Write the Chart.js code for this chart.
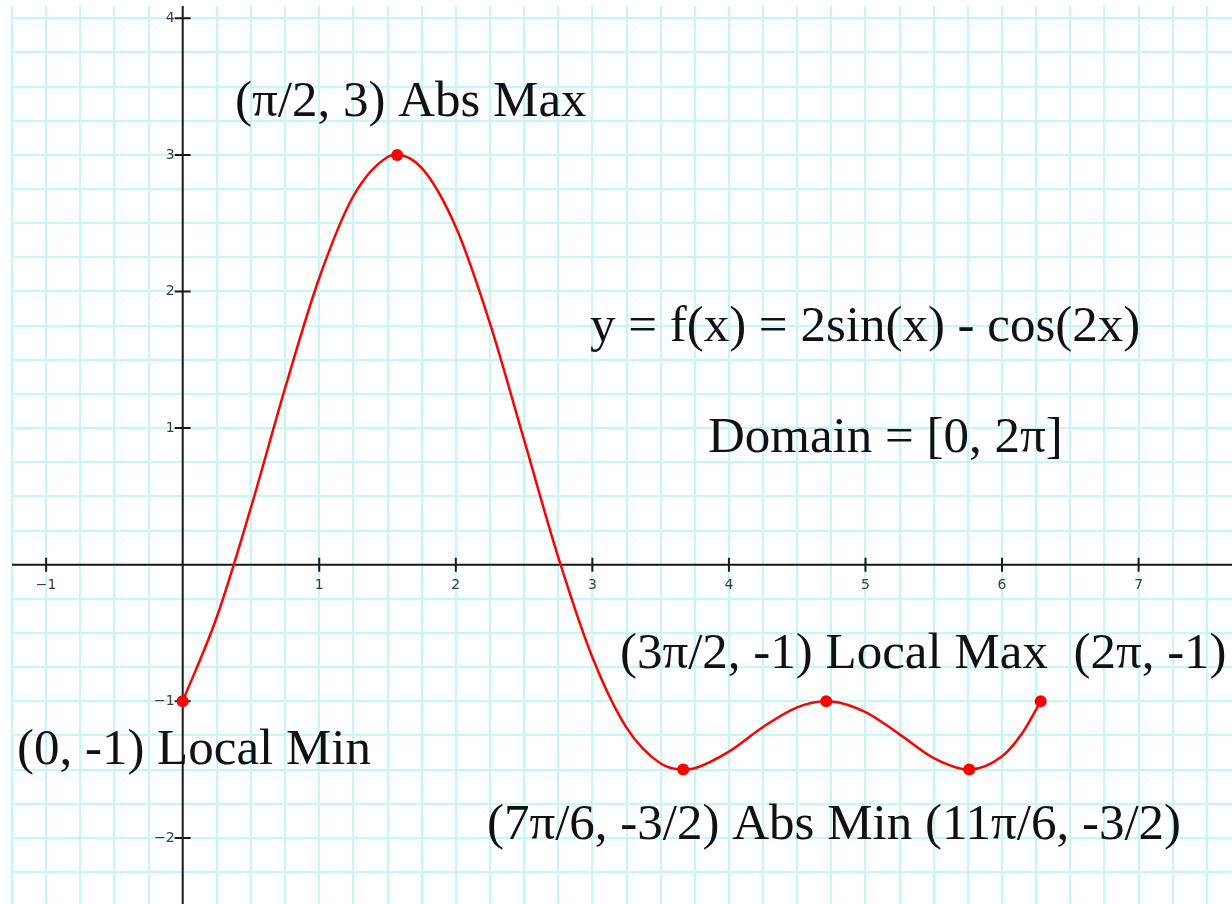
<!DOCTYPE html>
<html>
<head>
<meta charset="utf-8">
<title>y = f(x) = 2sin(x) - cos(2x)</title>
<script src="https://cdn.jsdelivr.net/npm/chart.js@4.4.1/dist/chart.umd.min.js"></script>
<style>
  html, body { margin: 0; padding: 0; background: #fff; }
  canvas { display: block; }
</style>
</head>
<body>
<canvas id="grafica" width="1232" height="904"></canvas>
<script>
// ---- curve samples, y = 2sin(x) - cos(2x) on [0, 2pi]
const curvaX = [0, 0.25, 0.5, 0.75, 1.0, 1.25, 1.5, 1.5708, 1.75, 2.0, 2.25, 2.5, 2.75, 3.0,
  3.25, 3.5, 3.6652, 3.75, 4.0, 4.25, 4.5, 4.7124, 4.75, 5.0, 5.25, 5.5, 5.7596, 6.0, 6.15, 6.2832];
const curvaY = [-1, -0.383, 0.419, 1.293, 2.099, 2.699, 2.985, 3, 2.905, 2.472, 1.767, 0.913, 0.055, -0.678,
  -1.193, -1.456, -1.5, -1.490, -1.368, -1.188, -1.044, -1, -1.001, -1.079, -1.242, -1.416, -1.5, -1.403, -1.230, -1];

// ---- critical points / endpoints
const puntosX = [0, 1.5708, 3.6652, 4.7124, 5.7596, 6.2832];
const puntosY = [-1, 3, -1.5, -1, -1.5, -1];

// ---- axis tick values and labels
const ticksX = [-1, 1, 2, 3, 4, 5, 6, 7];
const etiquetasX = ["\u22121", "1", "2", "3", "4", "5", "6", "7"];
const ticksY = [-2, -1, 1, 2, 3, 4];
const etiquetasY = ["\u22122", "\u22121", "1", "2", "3", "4"];

// ---- text notes, anchored in graph units (left edge, baseline)
const notasTexto = ["(\u03c0/2, 3) Abs Max", "y = f(x) = 2sin(x) - cos(2x)", "Domain = [0, 2\u03c0]",
  "(3\u03c0/2, -1) Local Max  (2\u03c0, -1)", "(0, -1) Local Min",
  "(7\u03c0/6, -3/2) Abs Min (11\u03c0/6, -3/2)"];
const notasX = [0.383, 2.982, 3.846, 3.202, -1.214, 2.228];
const notasY = [3.285, 1.638, 0.825, -0.756, -1.459, -2.007];

const curva = curvaX.map((x, i) => ({ x, y: curvaY[i] }));
const puntos = puntosX.map((x, i) => ({ x, y: puntosY[i] }));

const ROJO = "#ff0000";
const CUADRICULA = "#c6f7f7";

// grid only on quarter steps
function colorCuadricula(ctx) {
  const v = ctx.tick ? ctx.tick.value : 0;
  const q = v / 0.25;
  return Math.abs(q - Math.round(q)) < 1e-6 ? CUADRICULA : "rgba(0,0,0,0)";
}

// ===============================
// EJES EN EL ORIGEN
// ===============================
const ejesOrigen = {
  id: "ejesOrigen",
  beforeDatasetsDraw(chart) {
    const { ctx, chartArea, scales } = chart;
    const x0 = scales.x.getPixelForValue(0);
    const y0 = scales.y.getPixelForValue(0);
    ctx.save();
    ctx.strokeStyle = "#1a1a1a";
    ctx.lineWidth = 2;
    ctx.beginPath();
    ctx.moveTo(chartArea.left, y0);
    ctx.lineTo(chartArea.right, y0);
    ctx.moveTo(x0, chartArea.top);
    ctx.lineTo(x0, chartArea.bottom);
    ticksX.forEach(v => {
      const px = scales.x.getPixelForValue(v);
      ctx.moveTo(px, y0 - 7);
      ctx.lineTo(px, y0 + 7);
    });
    ticksY.forEach(v => {
      const py = scales.y.getPixelForValue(v);
      ctx.moveTo(x0 - 8, py);
      ctx.lineTo(x0 + 8, py);
    });
    ctx.stroke();

    ctx.fillStyle = "#3c3c3c";
    ctx.font = "14px 'DejaVu Sans'";
    ctx.textAlign = "center";
    ctx.textBaseline = "middle";
    ticksX.forEach((v, i) => {
      ctx.fillText(etiquetasX[i], scales.x.getPixelForValue(v), y0 + 21);
    });
    ctx.textAlign = "right";
    ticksY.forEach((v, i) => {
      ctx.fillText(etiquetasY[i], x0 - 8, scales.y.getPixelForValue(v));
    });
    ctx.restore();
  },
  afterDraw(chart) {
    const { ctx, scales } = chart;
    ctx.save();
    ctx.fillStyle = "#111";
    ctx.font = "51px 'Liberation Serif'";
    ctx.textAlign = "left";
    ctx.textBaseline = "alphabetic";
    notasTexto.forEach((t, i) => {
      ctx.fillText(t, scales.x.getPixelForValue(notasX[i]), scales.y.getPixelForValue(notasY[i]));
    });
    ctx.restore();
  }
};

new Chart(document.getElementById("grafica"), {
  type: "scatter",
  data: {
    datasets: [
      {
        data: curva,
        showLine: true,
        borderColor: ROJO,
        borderWidth: 2.5,
        pointRadius: 0,
        cubicInterpolationMode: "monotone"
      },
      {
        data: puntos,
        showLine: false,
        backgroundColor: ROJO,
        borderColor: ROJO,
        pointRadius: 6,
        pointBorderWidth: 0
      }
    ]
  },
  options: {
    responsive: false,
    animation: false,
    layout: { autoPadding: false, padding: { left: 12, top: 6, right: 0, bottom: 0 } },
    plugins: { legend: { display: false }, tooltip: { enabled: false } },
    scales: {
      x: {
        type: "linear",
        min: -1.25,
        max: 7.684,
        border: { display: false },
        grid: { color: colorCuadricula, lineWidth: 2, drawTicks: false },
        ticks: { display: false, stepSize: 0.25, includeBounds: false }
      },
      y: {
        type: "linear",
        min: -2.484,
        max: 4.09,
        border: { display: false },
        grid: { color: colorCuadricula, lineWidth: 2, drawTicks: false },
        ticks: { display: false, stepSize: 0.25, includeBounds: false }
      }
    }
  },
  plugins: [ejesOrigen]
});
</script>
</body>
</html>
